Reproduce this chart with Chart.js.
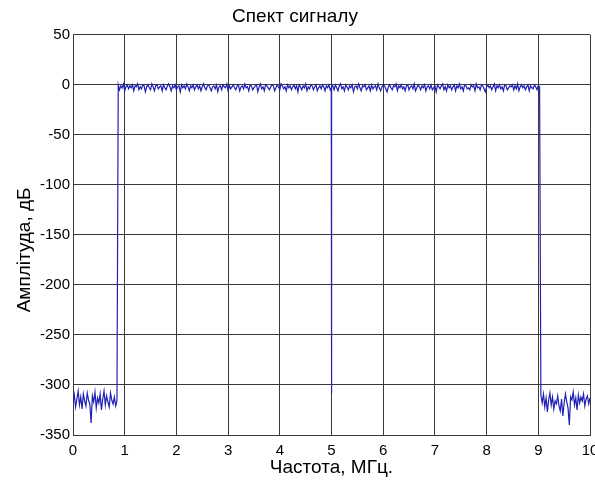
<!DOCTYPE html>
<html>
<head>
<meta charset="utf-8">
<script src="https://cdn.jsdelivr.net/npm/chart.js@4.4.1/dist/chart.umd.min.js"></script>
<style>
  html, body { margin: 0; padding: 0; background: #fff; }
  canvas { display: block; }
</style>
</head>
<body>
<canvas id="spectrum" width="595" height="484"></canvas>
<script>
// spectrum samples, dB
const stopLowStart = 0.0, stopLowStep = 0.025;
const stopLowAmp = [-318, -310, -322, -314, -306, -320, -312, -324, -309, -316,
    -321, -308, -315, -319, -338, -311, -317, -307, -323, -313,
    -318, -309, -325, -314, -306, -320, -311, -317, -322, -308,
    -315, -319, -312, -321, -316];

const passLowStart = 0.875, passStep = 0.025;
const passLowAmp = [
    0, -5, -1, -3, 1, -6, -2, 0, -4, -1,
    -3, 0, -6, -1, -2, 1, -5, -2, -4, 0,
    -1, -7, -2, 0, -3, -5, 1, -2, -6, -1,
    0, -4, -2, -1, -6, 0, -3, -5, -1, 1,
    -2, -6, -1, -3, 0, -5, -2, -1, -7, 0,
    -3, -1, -4, 1, -2, -6, -1, -3, 0, -5,
    -2, 0, -4, -1, -6, -2, 1, -3, -5, -1,
    0, -3, -6, -2, -1, -4, 0, -7, -2, -1,
    -5, 0, -2, -3, 1, -6, -1, -4, -2, 0,
    -3, -5, -1, 0, -6, -2, -1, -4, 1, -3,
    -2, -6, 0, -1, -5, -3, -1, 0, -7, -2,
    1, -4, -2, -6, 0, -1, -3, -5, -2, 0,
    -1, -6, -3, 0, -2, -5, 1, -1, -4, -2,
    -6, 0, -3, -1, -5, -2, 0, -4, -1, -7,
    0, -2, -5, -1, -3, 1, -6, -2, -4, 0,
    -1, -5, -2, 0, -6, -3, -1, -4, 0, -2,
    -6, -1, -3, 0, -5];

// notch at the carrier
const notchFreq = [4.995, 5.0, 5.0, 5.005];
const notchAmp = [-3, -308, -226, -2];

const passHighStart = 5.025;
const passHighAmp = [
    -1, -5, 0, -3, -6, -1, 1, -4, -2, -6,
    0, -2, -5, -1, -3, 0, -7, -2, -1, -4,
    1, -3, -6, -1, -2, 0, -5, -3, -1, -6,
    0, -4, -2, -1, -5, 1, -3, -6, -2, 0,
    -1, -4, -7, -2, 0, -3, -5, -1, -2, 1,
    -6, -1, -3, 0, -4, -2, -6, -1, 0, -5,
    -2, -1, -4, 1, -6, -3, 0, -2, -5, -1,
    -3, 0, -6, -2, -1, -4, 0, -5, -3, -1,
    -7, 0, -2, -4, -1, 1, -5, -2, -6, 0,
    -3, -1, -5, -2, 0, -6, -1, -3, 1, -4,
    -2, -6, 0, -1, -4, -3, -5, 0, -2, -1,
    -6, 1, -3, -2, -5, 0, -1, -4, -7, -2,
    0, -3, -1, -5, -2, 1, -6, -1, -3, 0,
    -4, -2, -6, 0, -1, -5, -3, -1, -2, 0,
    -5, -1, -4, 1, -6, -2, 0, -3, -1, -5,
    -2, 0, -6, -1, -3, -4, 0, -2, -5, -1,
    -2];

const stopHighStart = 9.05, stopHighStep = 0.025;
const stopHighAmp = [-310, -318, -309, -322, -313, -327, -315, -308, -320, -312,
    -324, -316, -319, -311, -321, -326, -314, -331, -318, -309,
    -317, -323, -340, -312, -315, -307, -320, -313, -325, -310,
    -318, -312, -316, -309, -321, -314, -311, -319, -313];

const xMax = 10, yMin = -350, yMax = 50;
const yTitle = 'Амплітуда, дБ';

function segment(start, step, amps) {
    return amps.map((a, i) => ({ x: +(start + i * step).toFixed(4), y: a }));
}

const points = [
    ...segment(stopLowStart, stopLowStep, stopLowAmp),
    ...segment(passLowStart, passStep, passLowAmp),
    ...notchFreq.map((f, i) => ({ x: f, y: notchAmp[i] })),
    ...segment(passHighStart, passStep, passHighAmp),
    ...segment(stopHighStart, stopHighStep, stopHighAmp)
];

Chart.defaults.font.family = '"Liberation Sans", Arial, sans-serif';
Chart.defaults.color = '#000';

const gridColor = '#3a3a3a';

// vertical axis title, sits a bit below the plot centre
const yTitlePlugin = {
    id: 'yTitle',
    afterDraw(chart) {
        const { ctx, chartArea } = chart;
        ctx.save();
        ctx.translate(25, (chartArea.top + chartArea.bottom) / 2 + 15);
        ctx.rotate(-Math.PI / 2);
        ctx.font = '19px "Liberation Sans", Arial, sans-serif';
        ctx.fillStyle = '#000';
        ctx.textAlign = 'center';
        ctx.textBaseline = 'middle';
        ctx.fillText(yTitle, 0, 0);
        ctx.restore();
    }
};

new Chart(document.getElementById('spectrum').getContext('2d'), {
    type: 'line',
    data: {
        datasets: [{
            data: points,
            borderColor: '#2020b4',
            borderWidth: 1.2,
            pointRadius: 0,
            tension: 0
        }]
    },
    options: {
        responsive: false,
        animation: false,
        devicePixelRatio: 1,
        layout: { padding: { right: 5 } },
        plugins: {
            legend: { display: false },
            tooltip: { enabled: false },
            title: {
                display: true,
                text: 'Спект сигналу',
                font: { size: 19, weight: 'normal' },
                padding: { top: 5, bottom: 7 }
            }
        },
        scales: {
            x: {
                type: 'linear',
                min: 0,
                max: xMax,
                ticks: { stepSize: 1, font: { size: 15 }, padding: 7 },
                grid: { color: gridColor, drawTicks: false },
                border: { color: gridColor },
                title: {
                    display: true,
                    text: 'Частота, МГц.',
                    font: { size: 19 },
                    padding: { top: 0, bottom: 5 }
                },
                afterFit: s => { s.height = 49; s.paddingLeft = 0; s.paddingRight = 0; }
            },
            y: {
                min: yMin,
                max: yMax,
                ticks: { stepSize: 50, font: { size: 15 }, padding: 3 },
                grid: { color: gridColor, drawTicks: false },
                border: { color: gridColor },
                afterFit: s => { s.width = 73; s.paddingTop = 0; s.paddingBottom = 0; }
            }
        }
    },
    plugins: [yTitlePlugin]
});
</script>
</body>
</html>
